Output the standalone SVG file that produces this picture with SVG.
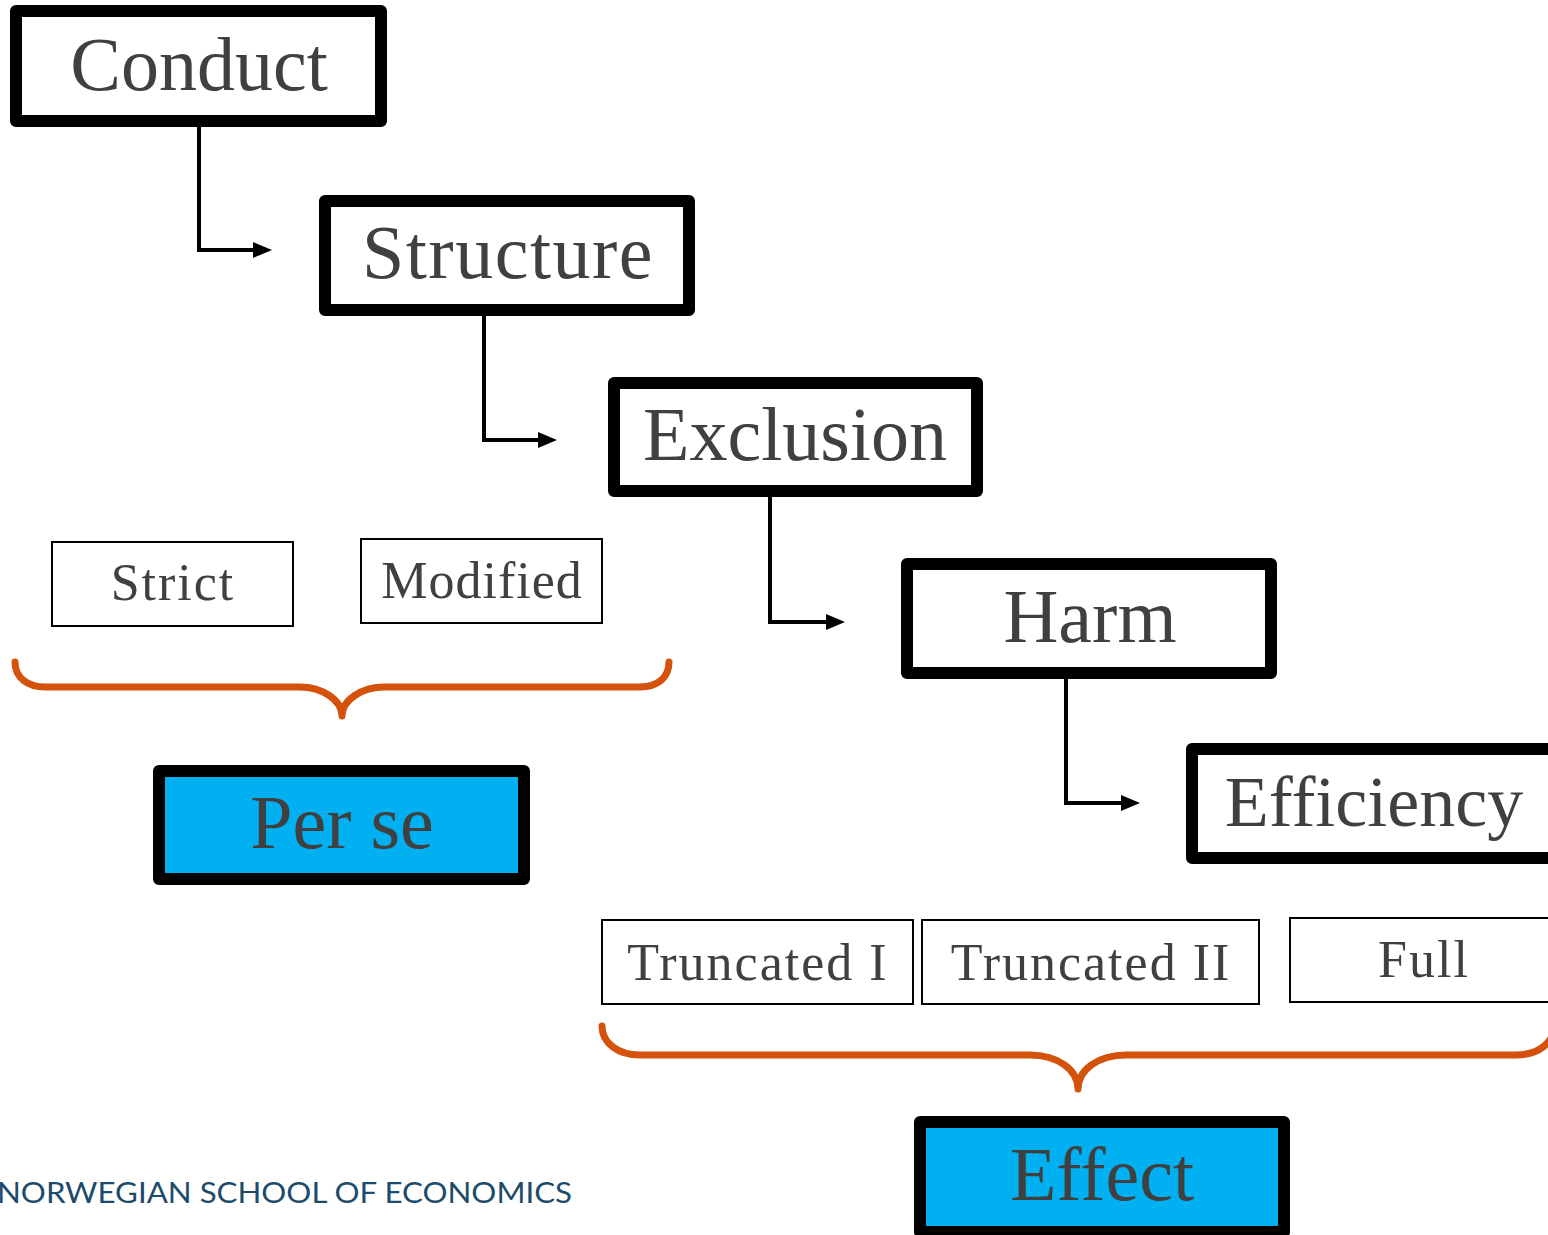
<svg xmlns="http://www.w3.org/2000/svg" width="1548" height="1235" viewBox="0 0 1548 1235">
<style>
.big{fill:#fff;stroke:#000;stroke-width:12;stroke-linejoin:round}
.blue{fill:#00B0F0;stroke:#000;stroke-width:12;stroke-linejoin:round}
.small{fill:#fff;stroke:#000;stroke-width:2}
.t{font-family:"Liberation Serif","DejaVu Serif",serif;fill:#404040;text-anchor:middle}
.tb{font-size:76px}
.ts{font-size:52px;letter-spacing:2px}
.conn{fill:none;stroke:#000;stroke-width:4}
.brace{fill:none;stroke:#D4520C;stroke-width:7;stroke-linecap:round;stroke-linejoin:round}
.foot{font-family:Lato,"Open Sans","Liberation Sans",sans-serif;font-size:28px;fill:#1D4B6C}
</style>
<defs>
<marker id="arr" viewBox="0 0 19 16" refX="14" refY="8" markerWidth="19" markerHeight="16" markerUnits="userSpaceOnUse" orient="auto">
<path d="M0,0 L19,8 L0,16 z" fill="#000"/>
</marker>
</defs>
<rect width="1548" height="1235" fill="#fff"/>
<g id="connectors">
<path class="conn" d="M199,125 V250 H267" marker-end="url(#arr)"/>
<path class="conn" d="M484,314 V440 H552" marker-end="url(#arr)"/>
<path class="conn" d="M770,495 V622 H840" marker-end="url(#arr)"/>
<path class="conn" d="M1066,677 V803 H1135" marker-end="url(#arr)"/>
</g>
<g id="conduct"><rect class="big" x="16" y="11" width="365" height="110"/><text class="t tb" x="199" y="90">Conduct</text></g>
<g id="structure"><rect class="big" x="325" y="201" width="364" height="109"/><text class="t tb" x="508" y="278" style="letter-spacing:1.5px">Structure</text></g>
<g id="exclusion"><rect class="big" x="614" y="383" width="363" height="108"/><text class="t tb" x="795" y="460">Exclusion</text></g>
<g id="harm"><rect class="big" x="907" y="564" width="364" height="109"/><text class="t tb" x="1090" y="642">Harm</text></g>
<g id="efficiency"><rect class="big" x="1192" y="749" width="370" height="109"/><text class="t tb" x="1374" y="826" style="font-size:72px">Efficiency</text></g>
<g id="strict"><rect class="small" x="52" y="542" width="241" height="84"/><text class="t ts" x="173" y="600">Strict</text></g>
<g id="modified"><rect class="small" x="361" y="539" width="241" height="84"/><text class="t ts" x="482" y="598" style="letter-spacing:1px">Modified</text></g>
<g id="brace1"><path class="brace" d="M15,662 C15,678 28,687 45,687 L300,687 C322,687 342,700 342,716 C342,700 362,687 384,687 L640,687 C657,687 669,678 669,662"/></g>
<g id="perse"><rect class="blue" x="159" y="771" width="365" height="108"/><text class="t tb" x="342" y="848">Per se</text></g>
<g id="truncated1"><rect class="small" x="602" y="920" width="311" height="84"/><text class="t ts" x="758" y="980">Truncated I</text></g>
<g id="truncated2"><rect class="small" x="922" y="920" width="337" height="84"/><text class="t ts" x="1091" y="980">Truncated II</text></g>
<g id="full"><rect class="small" x="1290" y="918" width="280" height="84"/><text class="t ts" x="1424" y="977">Full</text></g>
<g id="brace2"><path class="brace" d="M602,1026 C602,1043 618,1055 640,1055 L1030,1055 C1058,1055 1078,1070 1078,1089 C1078,1070 1098,1055 1126,1055 L1516,1055 C1538,1055 1554,1043 1554,1026"/></g>
<g id="effect"><rect class="blue" x="920" y="1122" width="364" height="110"/><text class="t tb" x="1102" y="1200">Effect</text></g>
<text class="foot" x="-3" y="1203" textLength="575" lengthAdjust="spacingAndGlyphs">NORWEGIAN SCHOOL OF ECONOMICS</text>
</svg>
